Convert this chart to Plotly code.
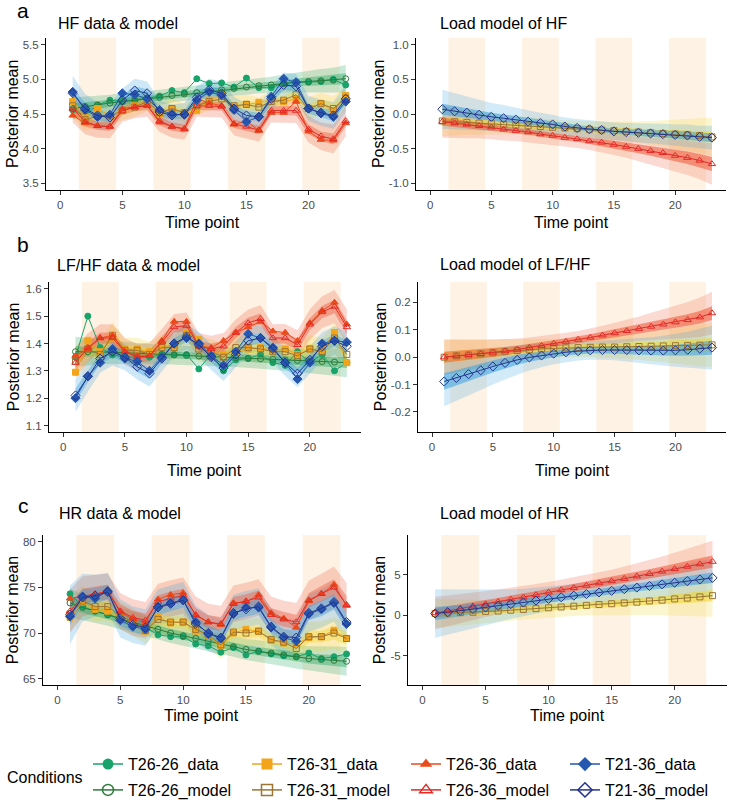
import plotly.graph_objects as go

W, H = 732, 807

# ---------------- data ----------------
time = [1, 2, 3, 4, 5, 6, 7, 8, 9, 10, 11, 12, 13, 14, 15, 16, 17, 18, 19, 20, 21, 22, 23]
conditions = ["T26-26", "T26-31", "T26-36", "T21-36"]
shade_start = [1.5, 7.5, 13.5, 19.5]
shade_end = [4.5, 10.5, 16.5, 22.5]

# HF data & model
hf_d_2626 = [4.56, 4.48, 4.63, 4.70, 4.68, 4.70, 4.73, 4.76, 4.84, 4.81, 5.01, 4.94, 4.95, 4.89, 5.02, 4.88, 4.88, 4.95, 4.96, 4.96, 4.97, 5.00, 4.92]
hf_m_2626 = [4.58, 4.61, 4.63, 4.66, 4.68, 4.70, 4.72, 4.74, 4.77, 4.79, 4.81, 4.83, 4.85, 4.87, 4.89, 4.91, 4.92, 4.94, 4.96, 4.97, 4.98, 4.99, 5.01]
hf_d_2631 = [4.68, 4.45, 4.58, 4.47, 4.55, 4.62, 4.68, 4.50, 4.58, 4.50, 4.55, 4.70, 4.77, 4.60, 4.64, 4.67, 4.70, 4.68, 4.72, 4.58, 4.65, 4.55, 4.77]
hf_m_2631 = [4.62, 4.42, 4.47, 4.47, 4.55, 4.60, 4.68, 4.52, 4.58, 4.52, 4.62, 4.68, 4.72, 4.62, 4.64, 4.60, 4.68, 4.70, 4.78, 4.58, 4.65, 4.58, 4.73]
hf_d_2636 = [4.48, 4.37, 4.33, 4.32, 4.58, 4.60, 4.63, 4.38, 4.32, 4.28, 4.72, 4.66, 4.62, 4.35, 4.40, 4.26, 4.52, 4.52, 4.68, 4.25, 4.13, 4.12, 4.37]
hf_m_2636 = [4.58, 4.39, 4.33, 4.32, 4.55, 4.60, 4.62, 4.40, 4.32, 4.29, 4.62, 4.62, 4.61, 4.36, 4.32, 4.27, 4.55, 4.55, 4.55, 4.28, 4.18, 4.14, 4.40]
hf_d_2136 = [4.82, 4.56, 4.46, 4.49, 4.80, 4.78, 4.72, 4.56, 4.50, 4.49, 4.70, 4.82, 4.77, 4.56, 4.39, 4.46, 4.75, 5.01, 4.96, 4.58, 4.51, 4.46, 4.68]
hf_m_2136 = [4.80, 4.58, 4.48, 4.45, 4.70, 4.84, 4.80, 4.53, 4.48, 4.50, 4.74, 4.85, 4.80, 4.58, 4.48, 4.46, 4.72, 4.92, 4.90, 4.58, 4.52, 4.48, 4.72]
hf_in_2626 = [0.07, 0.06, 0.06, 0.05, 0.05, 0.05, 0.05, 0.04, 0.04, 0.04, 0.04, 0.04, 0.04, 0.04, 0.04, 0.04, 0.05, 0.05, 0.05, 0.06, 0.06, 0.07, 0.08]
hf_out_2626 = [0.16, 0.14, 0.13, 0.12, 0.12, 0.11, 0.11, 0.11, 0.10, 0.10, 0.10, 0.10, 0.10, 0.10, 0.11, 0.11, 0.12, 0.13, 0.14, 0.15, 0.17, 0.18, 0.20]
hf_in_2631 = [0.08, 0.07, 0.06, 0.06, 0.06, 0.06, 0.06, 0.06, 0.05, 0.05, 0.05, 0.05, 0.05, 0.05, 0.06, 0.06, 0.06, 0.06, 0.06, 0.06, 0.07, 0.07, 0.08]
hf_out_2631 = [0.18, 0.16, 0.15, 0.15, 0.14, 0.14, 0.14, 0.14, 0.14, 0.13, 0.13, 0.13, 0.14, 0.14, 0.14, 0.14, 0.15, 0.15, 0.15, 0.16, 0.16, 0.17, 0.18]
hf_in_2636 = [0.08, 0.07, 0.06, 0.06, 0.06, 0.06, 0.06, 0.06, 0.06, 0.06, 0.06, 0.06, 0.06, 0.06, 0.06, 0.06, 0.06, 0.06, 0.07, 0.07, 0.07, 0.08, 0.08]
hf_out_2636 = [0.20, 0.18, 0.17, 0.17, 0.16, 0.16, 0.16, 0.16, 0.16, 0.16, 0.16, 0.16, 0.16, 0.17, 0.17, 0.17, 0.17, 0.17, 0.18, 0.19, 0.20, 0.21, 0.22]
hf_in_2136 = [0.09, 0.08, 0.07, 0.07, 0.07, 0.06, 0.06, 0.06, 0.06, 0.06, 0.06, 0.06, 0.06, 0.06, 0.06, 0.06, 0.07, 0.07, 0.07, 0.07, 0.07, 0.08, 0.08]
hf_out_2136 = [0.25, 0.21, 0.19, 0.18, 0.17, 0.17, 0.17, 0.17, 0.16, 0.16, 0.16, 0.16, 0.17, 0.17, 0.17, 0.17, 0.17, 0.18, 0.18, 0.18, 0.19, 0.19, 0.20]

# HF load model
hfl_2631 = [-0.10, -0.11, -0.12, -0.13, -0.14, -0.15, -0.16, -0.17, -0.18, -0.19, -0.20, -0.21, -0.22, -0.23, -0.24, -0.25, -0.26, -0.27, -0.28, -0.29, -0.30, -0.31, -0.33]
hfl_2636 = [-0.11, -0.13, -0.15, -0.17, -0.19, -0.22, -0.24, -0.26, -0.29, -0.31, -0.34, -0.36, -0.39, -0.41, -0.44, -0.47, -0.50, -0.53, -0.56, -0.60, -0.63, -0.67, -0.72]
hfl_2136 = [0.07, 0.04, 0.02, -0.01, -0.04, -0.06, -0.08, -0.11, -0.13, -0.15, -0.18, -0.20, -0.22, -0.23, -0.25, -0.26, -0.27, -0.28, -0.29, -0.30, -0.31, -0.33, -0.34]
hfl_in_2631 = [0.06, 0.055, 0.05, 0.05, 0.045, 0.04, 0.04, 0.04, 0.035, 0.035, 0.035, 0.035, 0.035, 0.04, 0.04, 0.045, 0.05, 0.055, 0.06, 0.065, 0.07, 0.075, 0.08]
hfl_out_2631 = [0.22, 0.20, 0.18, 0.17, 0.15, 0.14, 0.13, 0.12, 0.12, 0.11, 0.11, 0.11, 0.11, 0.12, 0.13, 0.14, 0.15, 0.17, 0.19, 0.21, 0.23, 0.25, 0.28]
hfl_in_2636 = [0.06, 0.055, 0.05, 0.05, 0.045, 0.04, 0.04, 0.04, 0.04, 0.04, 0.04, 0.04, 0.045, 0.05, 0.055, 0.06, 0.065, 0.07, 0.075, 0.08, 0.09, 0.095, 0.10]
hfl_out_2636 = [0.23, 0.21, 0.20, 0.18, 0.17, 0.16, 0.15, 0.14, 0.13, 0.13, 0.13, 0.13, 0.13, 0.14, 0.15, 0.16, 0.17, 0.19, 0.21, 0.23, 0.25, 0.27, 0.30]
hfl_in_2136 = [0.08, 0.075, 0.07, 0.065, 0.06, 0.055, 0.05, 0.05, 0.045, 0.045, 0.04, 0.04, 0.04, 0.04, 0.04, 0.045, 0.045, 0.05, 0.05, 0.055, 0.06, 0.06, 0.065]
hfl_out_2136 = [0.28, 0.26, 0.24, 0.22, 0.20, 0.19, 0.17, 0.16, 0.15, 0.14, 0.13, 0.13, 0.13, 0.13, 0.13, 0.13, 0.14, 0.14, 0.15, 0.15, 0.16, 0.16, 0.17]

# LF/HF data & model
lf_d_2626 = [1.35, 1.50, 1.385, 1.358, 1.35, 1.35, 1.35, 1.36, 1.36, 1.36, 1.307, 1.36, 1.30, 1.34, 1.345, 1.36, 1.33, 1.32, 1.37, 1.33, 1.36, 1.30, 1.33]
lf_m_2626 = [1.37, 1.37, 1.37, 1.368, 1.366, 1.364, 1.362, 1.36, 1.358, 1.356, 1.354, 1.352, 1.35, 1.348, 1.346, 1.344, 1.342, 1.34, 1.338, 1.336, 1.334, 1.332, 1.33]
lf_d_2631 = [1.295, 1.41, 1.37, 1.42, 1.38, 1.38, 1.37, 1.39, 1.385, 1.44, 1.415, 1.37, 1.36, 1.37, 1.38, 1.385, 1.375, 1.38, 1.36, 1.38, 1.375, 1.44, 1.33]
lf_m_2631 = [1.335, 1.38, 1.36, 1.43, 1.375, 1.375, 1.36, 1.385, 1.385, 1.43, 1.38, 1.37, 1.35, 1.385, 1.385, 1.38, 1.37, 1.37, 1.355, 1.38, 1.37, 1.42, 1.36]
lf_d_2636 = [1.355, 1.38, 1.42, 1.43, 1.37, 1.355, 1.355, 1.41, 1.48, 1.48, 1.39, 1.385, 1.41, 1.44, 1.46, 1.48, 1.445, 1.44, 1.41, 1.475, 1.52, 1.55, 1.47]
lf_m_2636 = [1.33, 1.385, 1.42, 1.42, 1.37, 1.35, 1.355, 1.405, 1.46, 1.465, 1.39, 1.38, 1.39, 1.44, 1.475, 1.49, 1.42, 1.42, 1.395, 1.47, 1.515, 1.535, 1.46]
lf_d_2136 = [1.20, 1.28, 1.33, 1.38, 1.345, 1.335, 1.30, 1.35, 1.40, 1.42, 1.40, 1.355, 1.32, 1.37, 1.435, 1.42, 1.385, 1.33, 1.27, 1.33, 1.40, 1.41, 1.405]
lf_m_2136 = [1.21, 1.28, 1.345, 1.37, 1.35, 1.315, 1.29, 1.345, 1.40, 1.425, 1.395, 1.35, 1.31, 1.36, 1.41, 1.42, 1.38, 1.33, 1.29, 1.34, 1.39, 1.41, 1.39]
lf_in_2626 = [0.02, 0.018, 0.016, 0.015, 0.014, 0.013, 0.012, 0.012, 0.012, 0.012, 0.012, 0.012, 0.012, 0.012, 0.012, 0.012, 0.013, 0.014, 0.015, 0.016, 0.018, 0.019, 0.02]
lf_out_2626 = [0.055, 0.05, 0.046, 0.043, 0.04, 0.038, 0.036, 0.035, 0.034, 0.034, 0.034, 0.034, 0.034, 0.034, 0.035, 0.036, 0.038, 0.04, 0.042, 0.044, 0.047, 0.05, 0.053]
lf_in_2631 = [0.022, 0.02, 0.02, 0.02, 0.019, 0.019, 0.019, 0.019, 0.019, 0.019, 0.019, 0.019, 0.019, 0.019, 0.019, 0.019, 0.019, 0.019, 0.019, 0.02, 0.02, 0.021, 0.022]
lf_out_2631 = [0.055, 0.05, 0.05, 0.048, 0.047, 0.046, 0.046, 0.046, 0.046, 0.046, 0.046, 0.046, 0.046, 0.046, 0.046, 0.046, 0.046, 0.047, 0.048, 0.049, 0.05, 0.052, 0.055]
lf_in_2636 = [0.022, 0.021, 0.02, 0.02, 0.02, 0.02, 0.02, 0.02, 0.02, 0.02, 0.02, 0.02, 0.02, 0.02, 0.02, 0.02, 0.02, 0.02, 0.021, 0.022, 0.023, 0.024, 0.025]
lf_out_2636 = [0.055, 0.052, 0.05, 0.05, 0.049, 0.048, 0.048, 0.048, 0.048, 0.048, 0.048, 0.048, 0.048, 0.048, 0.049, 0.05, 0.05, 0.051, 0.053, 0.055, 0.058, 0.061, 0.065]
lf_in_2136 = [0.025, 0.022, 0.02, 0.02, 0.019, 0.019, 0.019, 0.019, 0.019, 0.019, 0.019, 0.019, 0.019, 0.019, 0.019, 0.019, 0.019, 0.02, 0.02, 0.02, 0.021, 0.022, 0.023]
lf_out_2136 = [0.06, 0.056, 0.052, 0.05, 0.048, 0.047, 0.047, 0.047, 0.047, 0.047, 0.047, 0.047, 0.047, 0.047, 0.047, 0.047, 0.048, 0.049, 0.05, 0.05, 0.051, 0.052, 0.054]

# LF/HF load model
lfl_2631 = [0.0, 0.005, 0.008, 0.012, 0.016, 0.02, 0.024, 0.027, 0.03, 0.032, 0.034, 0.035, 0.036, 0.037, 0.037, 0.038, 0.039, 0.04, 0.041, 0.042, 0.043, 0.044, 0.045]
lfl_2636 = [0.0, 0.004, 0.008, 0.012, 0.017, 0.022, 0.028, 0.035, 0.042, 0.05, 0.057, 0.064, 0.072, 0.08, 0.088, 0.096, 0.104, 0.112, 0.12, 0.128, 0.136, 0.146, 0.161]
lfl_2136 = [-0.089, -0.076, -0.062, -0.048, -0.034, -0.021, -0.01, -0.001, 0.006, 0.013, 0.018, 0.022, 0.025, 0.026, 0.026, 0.026, 0.025, 0.024, 0.024, 0.025, 0.027, 0.031, 0.035]
lfl_in_2631 = [0.02, 0.019, 0.018, 0.017, 0.016, 0.015, 0.014, 0.013, 0.012, 0.012, 0.012, 0.012, 0.012, 0.013, 0.014, 0.015, 0.016, 0.017, 0.018, 0.02, 0.021, 0.023, 0.025]
lfl_out_2631 = [0.065, 0.06, 0.056, 0.052, 0.048, 0.044, 0.04, 0.037, 0.035, 0.034, 0.034, 0.034, 0.035, 0.037, 0.04, 0.044, 0.048, 0.053, 0.058, 0.064, 0.07, 0.076, 0.082]
lfl_in_2636 = [0.02, 0.019, 0.018, 0.017, 0.016, 0.015, 0.014, 0.013, 0.012, 0.012, 0.012, 0.012, 0.012, 0.013, 0.014, 0.015, 0.016, 0.017, 0.018, 0.02, 0.021, 0.023, 0.025]
lfl_out_2636 = [0.065, 0.06, 0.056, 0.052, 0.048, 0.044, 0.04, 0.037, 0.035, 0.033, 0.032, 0.032, 0.033, 0.035, 0.038, 0.041, 0.045, 0.05, 0.055, 0.06, 0.066, 0.072, 0.078]
lfl_in_2136 = [0.03, 0.028, 0.026, 0.024, 0.022, 0.02, 0.018, 0.016, 0.014, 0.013, 0.012, 0.012, 0.012, 0.012, 0.013, 0.014, 0.015, 0.016, 0.018, 0.02, 0.022, 0.024, 0.026]
lfl_out_2136 = [0.09, 0.084, 0.078, 0.072, 0.066, 0.06, 0.054, 0.048, 0.043, 0.039, 0.036, 0.034, 0.034, 0.035, 0.037, 0.04, 0.044, 0.049, 0.054, 0.06, 0.066, 0.073, 0.08]

# HR data & model
hr_d_2626 = [74.3, 72.9, 72.4, 72.0, 71.6, 71.1, 70.6, 69.8, 69.6, 69.6, 68.8, 68.6, 67.9, 68.4, 67.6, 68.0, 67.7, 67.5, 67.4, 67.8, 67.2, 67.4, 67.7]
hr_m_2626 = [73.3, 72.8, 72.4, 72.0, 71.6, 71.2, 70.8, 70.4, 70.0, 69.7, 69.4, 69.1, 68.8, 68.5, 68.2, 68.0, 67.8, 67.6, 67.4, 67.2, 67.1, 67.0, 66.9]
hr_d_2631 = [71.7, 73.4, 72.6, 72.4, 71.8, 71.2, 70.2, 71.8, 71.1, 71.2, 70.2, 69.7, 68.6, 70.0, 70.4, 70.2, 69.2, 68.9, 68.8, 69.5, 69.6, 70.3, 69.4]
hr_m_2631 = [72.1, 73.5, 72.9, 72.9, 71.9, 71.2, 70.3, 71.5, 71.2, 71.2, 70.4, 69.8, 68.7, 70.1, 70.0, 70.2, 69.3, 69.0, 68.3, 69.6, 69.6, 70.0, 69.4]
hr_d_2636 = [73.8, 74.0, 74.2, 74.7, 72.3, 71.5, 71.1, 73.7, 74.2, 74.4, 71.9, 71.2, 70.9, 73.3, 73.4, 74.2, 72.2, 71.6, 70.6, 73.5, 74.3, 75.3, 73.0]
hr_m_2636 = [72.4, 74.0, 74.3, 74.5, 72.4, 71.7, 71.4, 73.4, 73.8, 74.1, 72.0, 71.2, 71.0, 73.2, 73.5, 73.9, 72.0, 71.5, 71.2, 73.6, 74.3, 75.0, 73.1]
hr_d_2136 = [71.8, 74.0, 73.8, 74.6, 71.4, 70.7, 70.4, 72.9, 73.3, 73.6, 71.2, 69.9, 69.4, 72.1, 72.8, 72.8, 70.6, 69.5, 69.1, 72.1, 72.6, 73.3, 71.0]
hr_m_2136 = [72.0, 73.9, 74.1, 74.5, 71.6, 70.9, 70.6, 72.8, 73.2, 73.6, 71.0, 70.0, 69.5, 72.2, 72.6, 72.9, 70.7, 69.6, 69.5, 72.2, 72.7, 73.4, 71.2]
hr_in_2626 = [0.7, 0.6, 0.55, 0.5, 0.5, 0.45, 0.45, 0.45, 0.45, 0.45, 0.45, 0.45, 0.45, 0.45, 0.45, 0.45, 0.5, 0.5, 0.5, 0.55, 0.55, 0.6, 0.65]
hr_out_2626 = [1.6, 1.4, 1.3, 1.2, 1.2, 1.15, 1.1, 1.1, 1.1, 1.1, 1.1, 1.1, 1.1, 1.1, 1.15, 1.2, 1.2, 1.25, 1.3, 1.35, 1.45, 1.5, 1.6]
hr_in_2631 = [0.8, 0.7, 0.65, 0.6, 0.6, 0.6, 0.6, 0.6, 0.6, 0.6, 0.6, 0.6, 0.6, 0.6, 0.6, 0.6, 0.6, 0.6, 0.6, 0.65, 0.65, 0.7, 0.75]
hr_out_2631 = [1.9, 1.7, 1.6, 1.5, 1.5, 1.5, 1.5, 1.5, 1.5, 1.5, 1.5, 1.5, 1.5, 1.5, 1.5, 1.5, 1.5, 1.5, 1.55, 1.6, 1.65, 1.7, 1.8]
hr_in_2636 = [0.9, 0.85, 0.8, 0.8, 0.75, 0.75, 0.75, 0.75, 0.75, 0.75, 0.75, 0.75, 0.75, 0.75, 0.75, 0.75, 0.75, 0.8, 0.8, 0.8, 0.85, 0.9, 0.95]
hr_out_2636 = [2.4, 2.2, 2.1, 2.0, 2.0, 2.0, 2.0, 2.0, 2.0, 2.0, 2.0, 2.0, 2.0, 2.0, 2.0, 2.0, 2.0, 2.05, 2.1, 2.15, 2.2, 2.3, 2.4]
hr_in_2136 = [1.1, 0.9, 0.85, 0.8, 0.8, 0.8, 0.8, 0.8, 0.8, 0.8, 0.8, 0.8, 0.8, 0.8, 0.8, 0.8, 0.8, 0.8, 0.8, 0.8, 0.85, 0.85, 0.9]
hr_out_2136 = [3.2, 2.6, 2.3, 2.1, 2.1, 2.0, 2.0, 2.0, 2.0, 2.0, 2.0, 2.0, 2.0, 2.0, 2.0, 2.0, 2.0, 2.0, 2.0, 2.05, 2.1, 2.15, 2.2]

# HR load model
hrl_2631 = [0.2, 0.25, 0.3, 0.35, 0.45, 0.5, 0.6, 0.7, 0.8, 0.9, 1.0, 1.1, 1.2, 1.3, 1.4, 1.5, 1.6, 1.75, 1.85, 2.0, 2.1, 2.25, 2.4]
hrl_2636 = [0.25, 0.5, 0.8, 1.1, 1.35, 1.65, 1.95, 2.2, 2.5, 2.8, 3.1, 3.35, 3.65, 3.95, 4.2, 4.5, 4.8, 5.1, 5.4, 5.7, 6.0, 6.3, 6.6]
hrl_2136 = [0.2, 0.35, 0.55, 0.75, 0.95, 1.15, 1.35, 1.55, 1.8, 2.0, 2.2, 2.4, 2.6, 2.8, 3.0, 3.2, 3.4, 3.6, 3.8, 4.0, 4.2, 4.4, 4.6]
hrl_in_2631 = [0.5, 0.48, 0.45, 0.42, 0.4, 0.38, 0.36, 0.35, 0.35, 0.35, 0.35, 0.35, 0.36, 0.38, 0.4, 0.42, 0.45, 0.48, 0.52, 0.56, 0.6, 0.65, 0.7]
hrl_out_2631 = [1.8, 1.7, 1.6, 1.5, 1.4, 1.35, 1.3, 1.25, 1.2, 1.2, 1.2, 1.2, 1.25, 1.3, 1.4, 1.5, 1.6, 1.75, 1.9, 2.05, 2.2, 2.4, 2.6]
hrl_in_2636 = [0.6, 0.57, 0.54, 0.51, 0.49, 0.47, 0.46, 0.45, 0.45, 0.45, 0.45, 0.45, 0.46, 0.47, 0.49, 0.51, 0.54, 0.57, 0.6, 0.63, 0.67, 0.71, 0.75]
hrl_out_2636 = [2.0, 1.9, 1.8, 1.7, 1.6, 1.5, 1.45, 1.4, 1.35, 1.3, 1.3, 1.3, 1.3, 1.35, 1.4, 1.5, 1.6, 1.7, 1.85, 2.0, 2.2, 2.4, 2.6]
hrl_in_2136 = [0.8, 0.75, 0.7, 0.65, 0.6, 0.55, 0.5, 0.47, 0.45, 0.43, 0.42, 0.42, 0.42, 0.42, 0.43, 0.45, 0.47, 0.5, 0.52, 0.55, 0.58, 0.61, 0.65]
hrl_out_2136 = [3.0, 2.8, 2.6, 2.4, 2.2, 2.0, 1.85, 1.7, 1.6, 1.5, 1.45, 1.4, 1.4, 1.4, 1.45, 1.5, 1.6, 1.7, 1.8, 1.95, 2.1, 2.25, 2.4]

# tick labels
hf_ticks = [3.5, 4.0, 4.5, 5.0, 5.5]
hf_ticktext = ["3.5", "4.0", "4.5", "5.0", "5.5"]
hfl_ticks = [-1.0, -0.5, 0.0, 0.5, 1.0]
hfl_ticktext = ["-1.0", "-0.5", "0.0", "0.5", "1.0"]
lf_ticks = [1.1, 1.2, 1.3, 1.4, 1.5, 1.6]
lf_ticktext = ["1.1", "1.2", "1.3", "1.4", "1.5", "1.6"]
lfl_ticks = [-0.2, -0.1, 0.0, 0.1, 0.2]
lfl_ticktext = ["-0.2", "-0.1", "0.0", "0.1", "0.2"]
hr_ticks = [65, 70, 75, 80]
hr_ticktext = ["65", "70", "75", "80"]
hrl_ticks = [-5, 0, 5]
hrl_ticktext = ["-5", "0", "5"]
x_ticks = [0, 5, 10, 15, 20]

# ---------------- styles ----------------
data_color = {"T26-26": "#18A36B", "T26-31": "#F2A51A", "T26-36": "#EB4A1B", "T21-36": "#2557B0"}
model_color = {"T26-26": "#2B7B3A", "T26-31": "#9C7434", "T26-36": "#E22A27", "T21-36": "#25348C"}
band_rgb = {"T26-26": "30,165,95", "T26-31": "240,215,40", "T26-36": "236,85,55", "T21-36": "55,160,225"}
data_symbol = {"T26-26": "circle", "T26-31": "square", "T26-36": "triangle-up", "T21-36": "diamond"}
model_symbol = {"T26-26": "circle-open", "T26-31": "square-open", "T26-36": "triangle-up-open", "T21-36": "diamond-open"}
marker_size = {"T26-26": 6, "T26-31": 6, "T26-36": 6.5, "T21-36": 7}

FONT = "Liberation Sans, Arial, Helvetica, sans-serif"

fig = go.Figure()


def band(mean, hw, rgba, xa, ya):
    upper = [m + h for m, h in zip(mean, hw)]
    lower = [m - h for m, h in zip(mean, hw)]
    fig.add_trace(go.Scatter(
        x=time + time[::-1], y=upper + lower[::-1], fill="toself", fillcolor=rgba,
        mode="lines", line=dict(width=0), hoverinfo="skip", showlegend=False,
        xaxis=xa, yaxis=ya))


def series(y, cond, kind, xa, ya):
    col = data_color[cond] if kind == "data" else model_color[cond]
    sym = data_symbol[cond] if kind == "data" else model_symbol[cond]
    fig.add_trace(go.Scatter(
        x=time, y=y, mode="lines+markers",
        line=dict(color=col, width=1),
        marker=dict(symbol=sym, size=marker_size[cond], color=col,
                    line=dict(color=col, width=1)),
        showlegend=False, name=f"{cond}_{kind}", xaxis=xa, yaxis=ya))


data_panels = [
    ("x", "y", {"T26-26": (hf_d_2626, hf_m_2626, hf_in_2626, hf_out_2626),
                "T26-31": (hf_d_2631, hf_m_2631, hf_in_2631, hf_out_2631),
                "T26-36": (hf_d_2636, hf_m_2636, hf_in_2636, hf_out_2636),
                "T21-36": (hf_d_2136, hf_m_2136, hf_in_2136, hf_out_2136)}),
    ("x3", "y3", {"T26-26": (lf_d_2626, lf_m_2626, lf_in_2626, lf_out_2626),
                  "T26-31": (lf_d_2631, lf_m_2631, lf_in_2631, lf_out_2631),
                  "T26-36": (lf_d_2636, lf_m_2636, lf_in_2636, lf_out_2636),
                  "T21-36": (lf_d_2136, lf_m_2136, lf_in_2136, lf_out_2136)}),
    ("x5", "y5", {"T26-26": (hr_d_2626, hr_m_2626, hr_in_2626, hr_out_2626),
                  "T26-31": (hr_d_2631, hr_m_2631, hr_in_2631, hr_out_2631),
                  "T26-36": (hr_d_2636, hr_m_2636, hr_in_2636, hr_out_2636),
                  "T21-36": (hr_d_2136, hr_m_2136, hr_in_2136, hr_out_2136)}),
]
for xa, ya, d in data_panels:
    for c in conditions:
        band(d[c][1], d[c][3], f"rgba({band_rgb[c]},0.24)", xa, ya)
    for c in conditions:
        band(d[c][1], d[c][2], f"rgba({band_rgb[c]},0.40)", xa, ya)
    for c in conditions:
        series(d[c][0], c, "data", xa, ya)
        series(d[c][1], c, "model", xa, ya)

load_panels = [
    ("x2", "y2", {"T26-31": (hfl_2631, hfl_in_2631, hfl_out_2631),
                  "T26-36": (hfl_2636, hfl_in_2636, hfl_out_2636),
                  "T21-36": (hfl_2136, hfl_in_2136, hfl_out_2136)}),
    ("x4", "y4", {"T26-31": (lfl_2631, lfl_in_2631, lfl_out_2631),
                  "T26-36": (lfl_2636, lfl_in_2636, lfl_out_2636),
                  "T21-36": (lfl_2136, lfl_in_2136, lfl_out_2136)}),
    ("x6", "y6", {"T26-31": (hrl_2631, hrl_in_2631, hrl_out_2631),
                  "T26-36": (hrl_2636, hrl_in_2636, hrl_out_2636),
                  "T21-36": (hrl_2136, hrl_in_2136, hrl_out_2136)}),
]
load_conds = ["T26-31", "T26-36", "T21-36"]
for xa, ya, d in load_panels:
    for c in load_conds:
        band(d[c][0], d[c][2], f"rgba({band_rgb[c]},0.22)", xa, ya)
    for c in load_conds:
        band(d[c][0], d[c][1], f"rgba({band_rgb[c]},0.55)", xa, ya)
    for c in load_conds:
        series(d[c][0], c, "model", xa, ya)

# legend-only traces (bigger symbols like the reference key)
for c in conditions:
    fig.add_trace(go.Scatter(
        x=[None], y=[None], mode="lines+markers", name=f"{c}_data", legend="legend",
        line=dict(color=data_color[c], width=1.5),
        marker=dict(symbol=data_symbol[c], size=11, color=data_color[c])))
for c in conditions:
    fig.add_trace(go.Scatter(
        x=[None], y=[None], mode="lines+markers", name=f"{c}_model", legend="legend2",
        line=dict(color=model_color[c], width=1.5),
        marker=dict(symbol=model_symbol[c], size=11, color=model_color[c],
                    line=dict(width=1.5, color=model_color[c]))))


def px_x(p):
    return p / W


def px_y(p):
    return 1 - p / H


# panel geometry in pixels: (left, right, top, bottom)
geo = {
    1: (46, 360, 38, 191), 2: (416, 726, 38, 191),
    3: (49, 361, 283, 434), 4: (418, 726, 283, 434),
    5: (43, 361, 537, 688), 6: (408, 727, 537, 688),
}
yinfo = {
    1: ([3.4, 5.6], hf_ticks, hf_ticktext),
    2: ([-1.1, 1.1], hfl_ticks, hfl_ticktext),
    3: ([1.075, 1.625], lf_ticks, lf_ticktext),
    4: ([-0.275, 0.275], lfl_ticks, lfl_ticktext),
    5: ([64.25, 80.75], hr_ticks, hr_ticktext),
    6: ([-8.7, 9.9], hrl_ticks, hrl_ticktext),
}
tickfont = dict(family=FONT, size=11.5, color="#4D4D4D")
shapes = []
for n in range(1, 7):
    l, r, t, b = geo[n]
    sfx = "" if n == 1 else str(n)
    fig.layout[f"xaxis{sfx}"] = dict(
        domain=[px_x(l), px_x(r)], anchor=f"y{sfx}", range=[-1.15, 24.15],
        tickvals=x_ticks, ticks="outside", ticklen=4, tickwidth=1, tickcolor="#333333",
        showline=True, linecolor="#000000", linewidth=1, showgrid=False, zeroline=False,
        tickfont=tickfont)
    rng, tv, tt = yinfo[n]
    fig.layout[f"yaxis{sfx}"] = dict(
        domain=[px_y(b), px_y(t)], anchor=f"x{sfx}", range=rng,
        tickvals=tv, ticktext=tt, ticks="outside", ticklen=4, tickwidth=1, tickcolor="#333333",
        showline=True, linecolor="#000000", linewidth=1, showgrid=False, zeroline=False,
        tickfont=tickfont)
    for s0, s1 in zip(shade_start, shade_end):
        shapes.append(dict(type="rect", xref=f"x{sfx}", yref=f"y{sfx} domain",
                           x0=s0, x1=s1, y0=0, y1=1, fillcolor="#FEF2E4",
                           line=dict(width=0), layer="below"))

annotations = []
tag_font = dict(family=FONT, size=21, color="#000000")
title_font = dict(family=FONT, size=16, color="#000000")
axis_font = dict(family=FONT, size=16, color="#000000")
for txt, y in [("a", 11), ("b", 245), ("c", 507)]:
    annotations.append(dict(text=txt, x=px_x(23), y=px_y(y), xref="paper", yref="paper",
                            showarrow=False, font=tag_font, xanchor="center", yanchor="middle"))
titles = [("HF data & model", 56, 24), ("Load model of HF", 438, 24),
          ("LF/HF data & model", 55, 266), ("Load model of LF/HF", 438, 265),
          ("HR data & model", 57, 515), ("Load model of HR", 438, 515)]
for txt, x, y in titles:
    annotations.append(dict(text=txt, x=px_x(x), y=px_y(y), xref="paper", yref="paper",
                            showarrow=False, font=title_font, xanchor="left", yanchor="middle"))
for n in range(1, 7):
    l, r, t, b = geo[n]
    xt_y = {1: 223, 2: 223, 3: 472, 4: 472, 5: 718, 6: 718}[n]
    annotations.append(dict(text="Time point", x=px_x((l + r) / 2), y=px_y(xt_y),
                            xref="paper", yref="paper", showarrow=False, font=axis_font,
                            xanchor="center", yanchor="middle"))
    yt_x = {1: 12, 2: 378, 3: 13, 4: 380, 5: 12, 6: 379}[n]
    annotations.append(dict(text="Posterior mean", x=px_x(yt_x), y=px_y((t + b) / 2),
                            xref="paper", yref="paper", showarrow=False, font=axis_font,
                            textangle=-90, xanchor="center", yanchor="middle"))
annotations.append(dict(text="Conditions", x=px_x(5), y=px_y(780), xref="paper", yref="paper",
                        showarrow=False, font=axis_font, xanchor="left", yanchor="middle"))

legend_common = dict(orientation="h", xanchor="left", yanchor="middle",
                     font=dict(family=FONT, size=16, color="#000000"),
                     bgcolor="rgba(0,0,0,0)", entrywidth=114, entrywidthmode="pixels",
                     itemwidth=30, tracegroupgap=0)
fig.update_layout(
    width=W, height=H, margin=dict(l=0, r=0, t=0, b=0),
    paper_bgcolor="white", plot_bgcolor="white",
    font=dict(family=FONT),
    shapes=shapes, annotations=annotations,
    showlegend=True,
    legend=dict(x=px_x(88), y=px_y(767), **legend_common),
    legend2=dict(x=px_x(88), y=px_y(793), **legend_common),
)

fig.write_html("out.html")
